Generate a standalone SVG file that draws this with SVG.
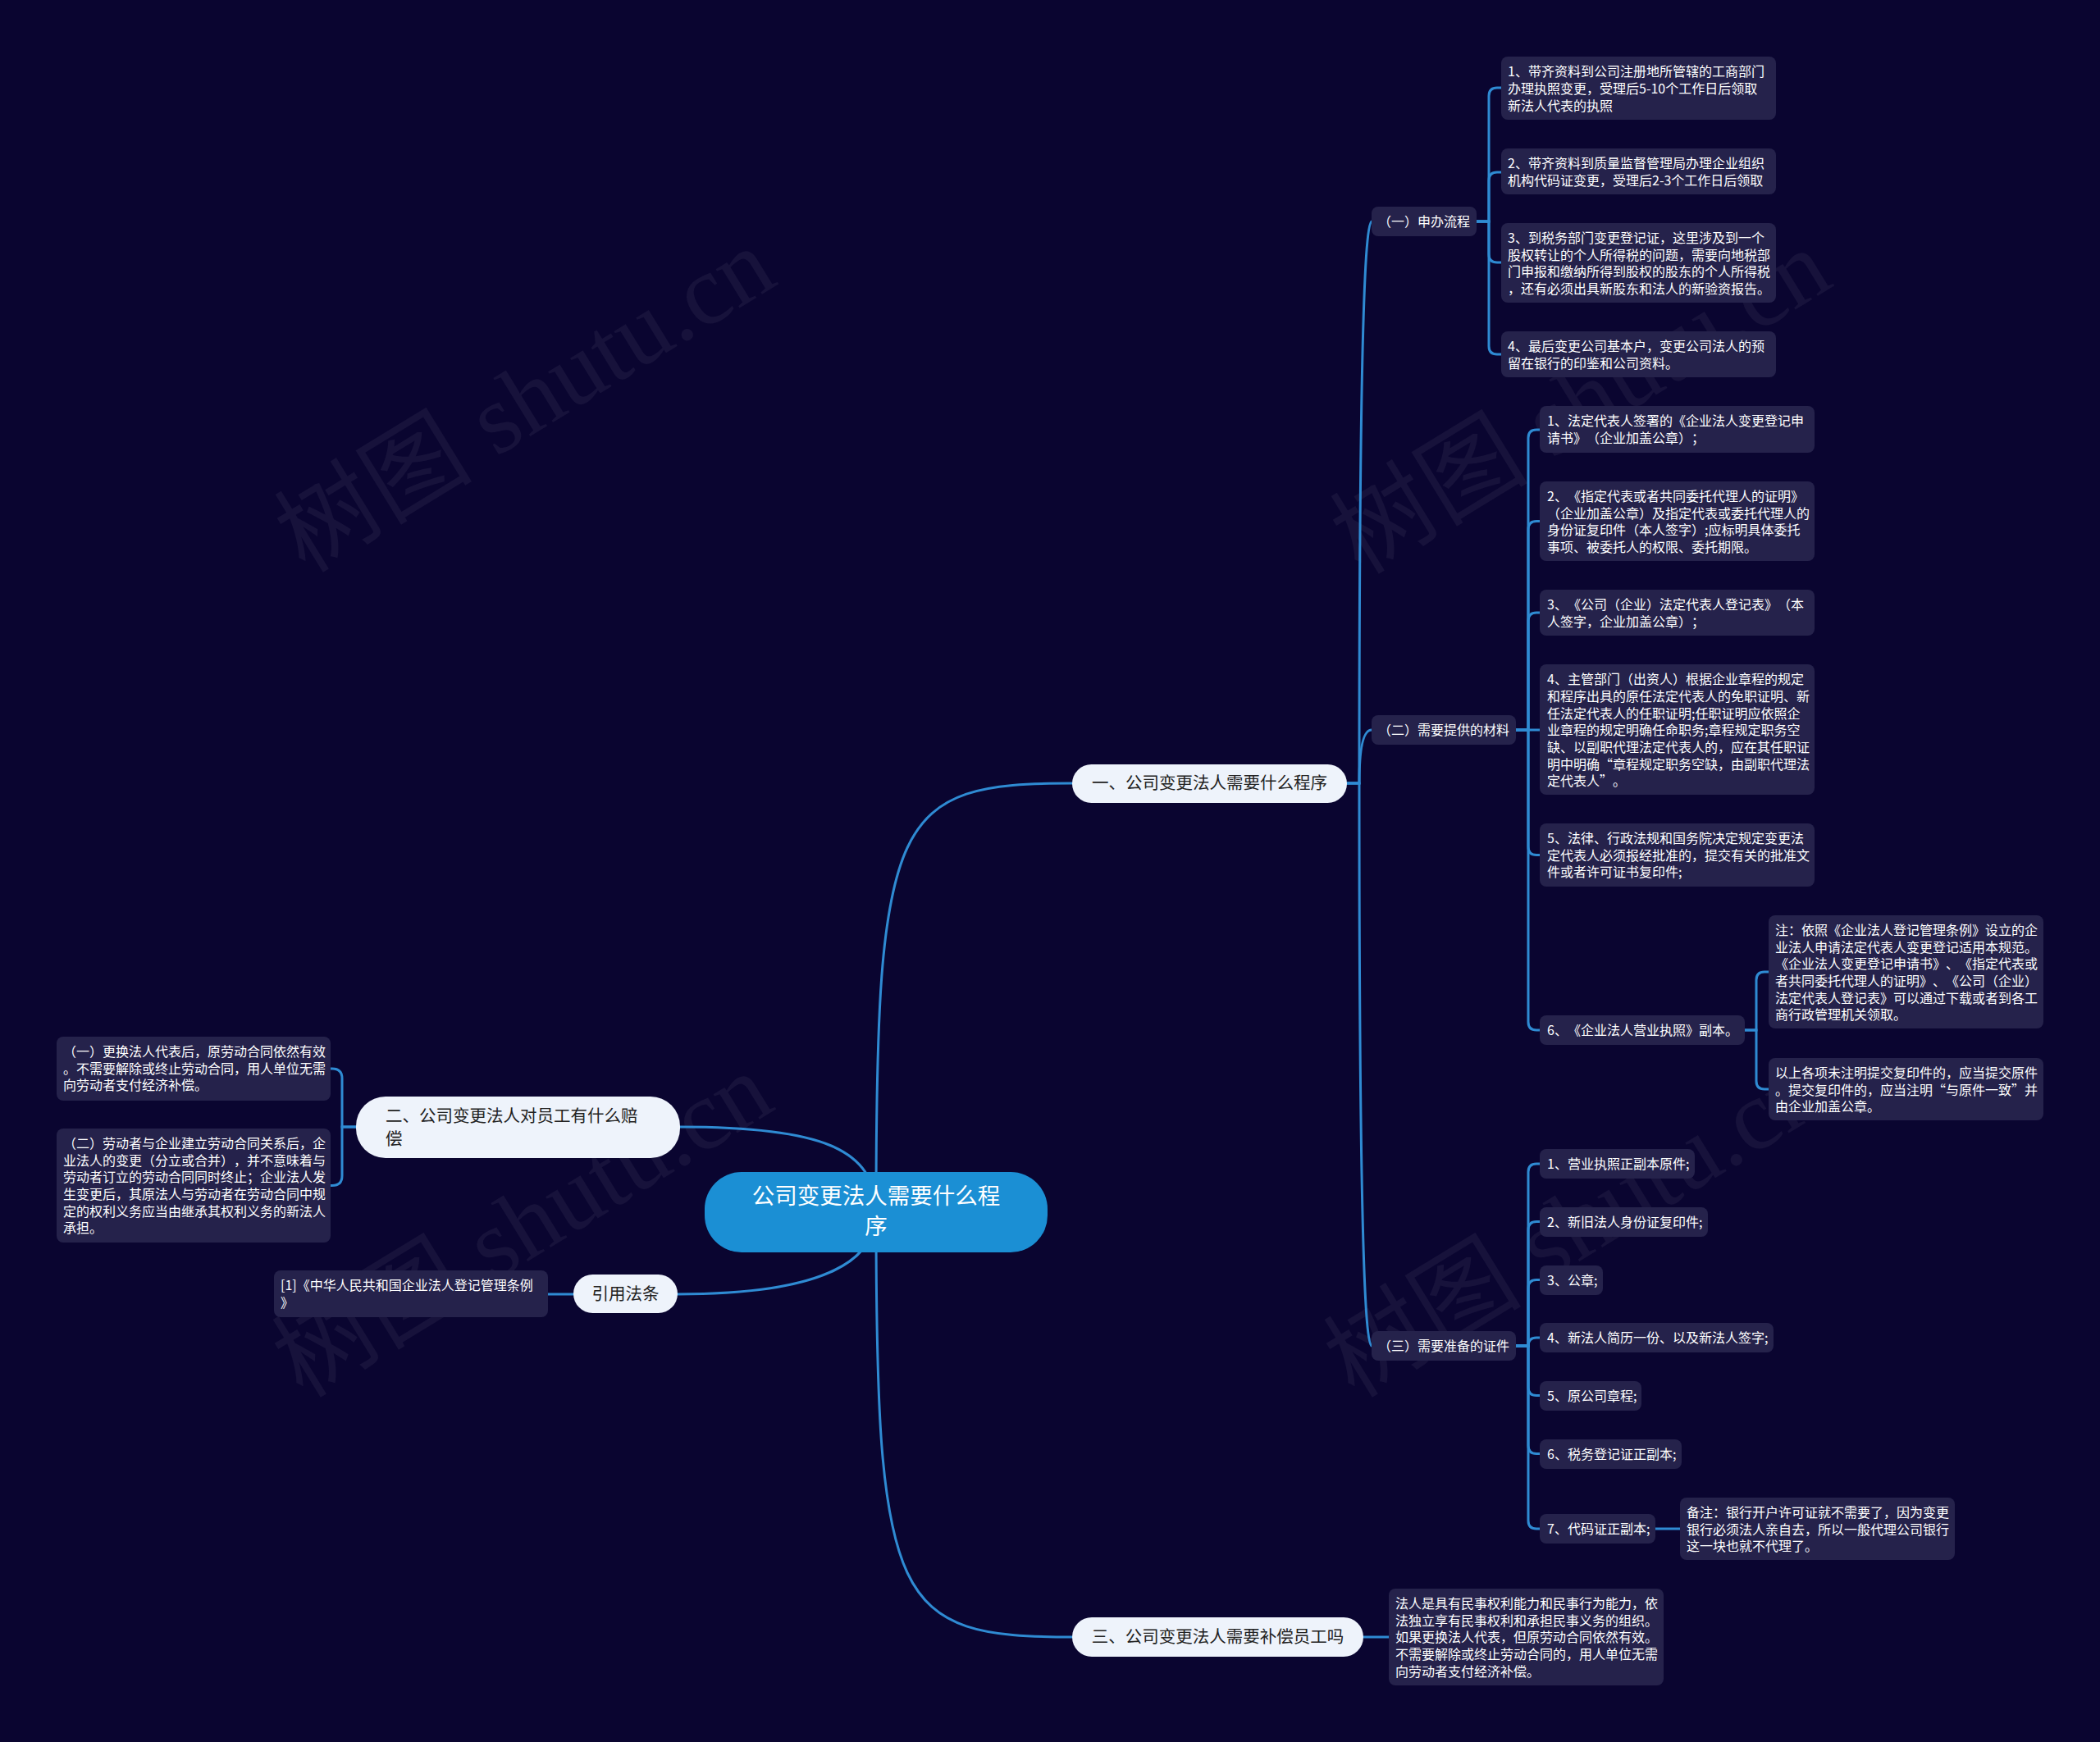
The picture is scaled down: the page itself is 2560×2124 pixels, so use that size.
<svg xmlns="http://www.w3.org/2000/svg" width="2560" height="2124" viewBox="0 0 2560 2124">
<style>
text{text-spacing-trim:space-all}
.wm{font-family:"Liberation Serif","Noto Sans CJK SC",serif;font-size:121px;fill:#ffffff;fill-opacity:0.055}
.lk{fill:none;stroke:#2f8bd3;stroke-width:3;stroke-linecap:round}
.sb{fill:#25224b}
.st{font-family:"Noto Sans CJK SC","Liberation Sans",sans-serif;font-size:16px;fill:#ffffff}
.mn{fill:#eef3fb}
.mt{font-family:"Noto Sans CJK SC","Liberation Sans",sans-serif;font-size:20.5px;fill:#222222}
.ct{font-family:"Noto Sans CJK SC","Liberation Sans",sans-serif;font-size:27.5px;fill:#ffffff}
</style>
<rect x="0" y="0" width="2560" height="2124" fill="#0a0530"/>
<g id="watermarks">
<text class="wm" x="372" y="700" transform="rotate(-31.5 372 700)">树图 shutu.cn</text>
<text class="wm" x="1659" y="702" transform="rotate(-31.5 1659 702)">树图 shutu.cn</text>
<text class="wm" x="369" y="1706" transform="rotate(-31.5 369 1706)">树图 shutu.cn</text>
<text class="wm" x="1651" y="1706" transform="rotate(-31.5 1651 1706)">树图 shutu.cn</text>
</g>
<g id="connectors">
<path class="lk" d="M1068,1478 C1068,990 1090,955 1307,955"/>
<path class="lk" d="M1068,1478 C1068,1960 1090,1996 1307,1996"/>
<path class="lk" d="M1068,1478 C1068,1400 1000,1374 829,1374"/>
<path class="lk" d="M1068,1478 C1068,1540 1000,1578 826,1578"/>
<path class="lk" d="M1642,955 H1657 Q1657,270 1672,270"/>
<path class="lk" d="M1642,955 H1657 Q1657,890 1672,890"/>
<path class="lk" d="M1642,955 H1657 Q1657,1641 1672,1641"/>
<path class="lk" d="M1800,270 H1815 V117 Q1815,107 1825,107 H1830"/>
<path class="lk" d="M1800,270 H1815 V220 Q1815,210 1825,210 H1830"/>
<path class="lk" d="M1800,270 H1815 V310 Q1815,320 1825,320 H1830"/>
<path class="lk" d="M1800,270 H1815 V422 Q1815,432 1825,432 H1830"/>
<path class="lk" d="M1848,890 H1863 V534 Q1863,524 1873,524 H1877"/>
<path class="lk" d="M1848,890 H1863 V645.5 Q1863,635.5 1873,635.5 H1877"/>
<path class="lk" d="M1848,890 H1863 V757 Q1863,747 1873,747 H1877"/>
<path class="lk" d="M1848,890 H1877"/>
<path class="lk" d="M1848,890 H1863 V1032.5 Q1863,1042.5 1873,1042.5 H1877"/>
<path class="lk" d="M1848,890 H1863 V1246 Q1863,1256 1873,1256 H1877"/>
<path class="lk" d="M1848,1641 H1863 V1429 Q1863,1419 1873,1419 H1877"/>
<path class="lk" d="M1848,1641 H1863 V1499.5 Q1863,1489.5 1873,1489.5 H1877"/>
<path class="lk" d="M1848,1641 H1863 V1570.5 Q1863,1560.5 1873,1560.5 H1877"/>
<path class="lk" d="M1848,1641 H1863 Q1863,1631 1873,1631 H1877"/>
<path class="lk" d="M1848,1641 H1863 V1691.5 Q1863,1701.5 1873,1701.5 H1877"/>
<path class="lk" d="M1848,1641 H1863 V1762.5 Q1863,1772.5 1873,1772.5 H1877"/>
<path class="lk" d="M1848,1641 H1863 V1854 Q1863,1864 1873,1864 H1877"/>
<path class="lk" d="M2127,1256 H2141 V1195 Q2141,1185 2151,1185 H2156"/>
<path class="lk" d="M2127,1256 H2141 V1318 Q2141,1328 2151,1328 H2156"/>
<path class="lk" d="M2018,1864 H2048"/>
<path class="lk" d="M1662,1996 H1693"/>
<path class="lk" d="M434,1374 H417 V1315 Q417,1303 405,1303 H403"/>
<path class="lk" d="M434,1374 H417 V1433.5 Q417,1445.5 405,1445.5 H403"/>
<path class="lk" d="M699,1578 H668"/>
</g>
<g id="center">
<rect x="859" y="1429" width="418" height="98" rx="45" fill="#1b8fd4"/>
<text class="ct" text-anchor="middle"><tspan x="1068" y="1468">公司变更法人需要什么程</tspan><tspan x="1068" y="1505">序</tspan></text>
</g>
<g id="branch1">
<rect class="mn" x="1307" y="932" width="335" height="47" rx="23.5"/>
<text class="mt" x="1474.5" y="962" text-anchor="middle">一、公司变更法人需要什么程序</text>
</g>
<g id="branch2">
<rect class="mn" x="434" y="1337" width="395" height="75" rx="36"/>
<text class="mt"><tspan x="470" y="1368">二、公司变更法人对员工有什么赔</tspan><tspan x="470" y="1396">偿</tspan></text>
</g>
<g id="branch3">
<rect class="mn" x="1307" y="1972" width="355" height="48" rx="24"/>
<text class="mt" x="1484.5" y="2003" text-anchor="middle">三、公司变更法人需要补偿员工吗</text>
</g>
<g id="branch4">
<rect class="mn" x="699" y="1554" width="127" height="47" rx="23.5"/>
<text class="mt" x="762.5" y="1585" text-anchor="middle">引用法条</text>
</g>
<g id="sub1">
<rect class="sb" x="1672" y="252" width="128" height="36" rx="8"/>
<text class="st" x="1680" y="276">（一）申办流程</text>
</g>
<g id="sub1-1">
<rect class="sb" x="1830" y="69" width="335" height="77" rx="8"/>
<text class="st"><tspan x="1838" y="93">1、带齐资料到公司注册地所管辖的工商部门</tspan><tspan x="1838" y="114">办理执照变更，受理后5-10个工作日后领取</tspan><tspan x="1838" y="135">新法人代表的执照</tspan></text>
</g>
<g id="sub1-2">
<rect class="sb" x="1830" y="181" width="335" height="56" rx="8"/>
<text class="st"><tspan x="1838" y="205">2、带齐资料到质量监督管理局办理企业组织</tspan><tspan x="1838" y="226">机构代码证变更，受理后2-3个工作日后领取</tspan></text>
</g>
<g id="sub1-3">
<rect class="sb" x="1830" y="272" width="335" height="97" rx="8"/>
<text class="st"><tspan x="1838" y="296">3、到税务部门变更登记证，这里涉及到一个</tspan><tspan x="1838" y="317">股权转让的个人所得税的问题，需要向地税部</tspan><tspan x="1838" y="337">门申报和缴纳所得到股权的股东的个人所得税</tspan><tspan x="1838" y="358">，还有必须出具新股东和法人的新验资报告。</tspan></text>
</g>
<g id="sub1-4">
<rect class="sb" x="1830" y="404" width="335" height="56" rx="8"/>
<text class="st"><tspan x="1838" y="428">4、最后变更公司基本户，变更公司法人的预</tspan><tspan x="1838" y="449">留在银行的印鉴和公司资料。</tspan></text>
</g>
<g id="sub2">
<rect class="sb" x="1672" y="872" width="176" height="36" rx="8"/>
<text class="st" x="1680" y="896">（二）需要提供的材料</text>
</g>
<g id="sub2-1">
<rect class="sb" x="1877" y="495" width="335" height="57" rx="8"/>
<text class="st"><tspan x="1886" y="519">1、法定代表人签署的《企业法人变更登记申</tspan><tspan x="1886" y="540">请书》（企业加盖公章）；</tspan></text>
</g>
<g id="sub2-2">
<rect class="sb" x="1877" y="587" width="335" height="97" rx="8"/>
<text class="st"><tspan x="1886" y="611">2、《指定代表或者共同委托代理人的证明》</tspan><tspan x="1886" y="632">（企业加盖公章）及指定代表或委托代理人的</tspan><tspan x="1886" y="652">身份证复印件（本人签字）;应标明具体委托</tspan><tspan x="1886" y="673">事项、被委托人的权限、委托期限。</tspan></text>
</g>
<g id="sub2-3">
<rect class="sb" x="1877" y="719" width="335" height="56" rx="8"/>
<text class="st"><tspan x="1886" y="743">3、《公司（企业）法定代表人登记表》（本</tspan><tspan x="1886" y="764">人签字，企业加盖公章）；</tspan></text>
</g>
<g id="sub2-4">
<rect class="sb" x="1877" y="810" width="335" height="159" rx="8"/>
<text class="st"><tspan x="1886" y="834">4、主管部门（出资人）根据企业章程的规定</tspan><tspan x="1886" y="855">和程序出具的原任法定代表人的免职证明、新</tspan><tspan x="1886" y="876">任法定代表人的任职证明;任职证明应依照企</tspan><tspan x="1886" y="896">业章程的规定明确任命职务;章程规定职务空</tspan><tspan x="1886" y="917">缺、以副职代理法定代表人的，应在其任职证</tspan><tspan x="1886" y="938">明中明确“章程规定职务空缺，由副职代理法</tspan><tspan x="1886" y="958">定代表人”。</tspan></text>
</g>
<g id="sub2-5">
<rect class="sb" x="1877" y="1004" width="335" height="77" rx="8"/>
<text class="st"><tspan x="1886" y="1028">5、法律、行政法规和国务院决定规定变更法</tspan><tspan x="1886" y="1049">定代表人必须报经批准的，提交有关的批准文</tspan><tspan x="1886" y="1069">件或者许可证书复印件;</tspan></text>
</g>
<g id="sub2-6">
<rect class="sb" x="1877" y="1238" width="250" height="36" rx="8"/>
<text class="st" x="1886" y="1262">6、《企业法人营业执照》副本。</text>
</g>
<g id="sub2-6-1">
<rect class="sb" x="2156" y="1116" width="335" height="138" rx="8"/>
<text class="st"><tspan x="2164" y="1140">注：依照《企业法人登记管理条例》设立的企</tspan><tspan x="2164" y="1161">业法人申请法定代表人变更登记适用本规范。</tspan><tspan x="2164" y="1181">《企业法人变更登记申请书》、《指定代表或</tspan><tspan x="2164" y="1202">者共同委托代理人的证明》、《公司（企业）</tspan><tspan x="2164" y="1223">法定代表人登记表》可以通过下载或者到各工</tspan><tspan x="2164" y="1243">商行政管理机关领取。</tspan></text>
</g>
<g id="sub2-6-2">
<rect class="sb" x="2156" y="1290" width="335" height="76" rx="8"/>
<text class="st"><tspan x="2164" y="1314">以上各项未注明提交复印件的，应当提交原件</tspan><tspan x="2164" y="1335">。提交复印件的，应当注明“与原件一致”并</tspan><tspan x="2164" y="1355">由企业加盖公章。</tspan></text>
</g>
<g id="sub3">
<rect class="sb" x="1672" y="1623" width="176" height="36" rx="8"/>
<text class="st" x="1680" y="1647">（三）需要准备的证件</text>
</g>
<g id="sub3-1">
<rect class="sb" x="1877" y="1401" width="189" height="36" rx="8"/>
<text class="st" x="1886" y="1425">1、营业执照正副本原件;</text>
</g>
<g id="sub3-2">
<rect class="sb" x="1877" y="1472" width="205" height="36" rx="8"/>
<text class="st" x="1886" y="1496">2、新旧法人身份证复印件;</text>
</g>
<g id="sub3-3">
<rect class="sb" x="1877" y="1543" width="77" height="36" rx="8"/>
<text class="st" x="1886" y="1567">3、公章;</text>
</g>
<g id="sub3-4">
<rect class="sb" x="1877" y="1613" width="285" height="36" rx="8"/>
<text class="st" x="1886" y="1637">4、新法人简历一份、以及新法人签字;</text>
</g>
<g id="sub3-5">
<rect class="sb" x="1877" y="1684" width="124" height="36" rx="8"/>
<text class="st" x="1886" y="1708">5、原公司章程;</text>
</g>
<g id="sub3-6">
<rect class="sb" x="1877" y="1755" width="173" height="36" rx="8"/>
<text class="st" x="1886" y="1779">6、税务登记证正副本;</text>
</g>
<g id="sub3-7">
<rect class="sb" x="1877" y="1846" width="141" height="36" rx="8"/>
<text class="st" x="1886" y="1870">7、代码证正副本;</text>
</g>
<g id="sub3-7-1">
<rect class="sb" x="2048" y="1826" width="335" height="76" rx="8"/>
<text class="st"><tspan x="2056" y="1850">备注：银行开户许可证就不需要了，因为变更</tspan><tspan x="2056" y="1871">银行必须法人亲自去，所以一般代理公司银行</tspan><tspan x="2056" y="1891">这一块也就不代理了。</tspan></text>
</g>
<g id="b2-1">
<rect class="sb" x="69" y="1264" width="334" height="78" rx="8"/>
<text class="st"><tspan x="77" y="1288">（一）更换法人代表后，原劳动合同依然有效</tspan><tspan x="77" y="1309">。不需要解除或终止劳动合同，用人单位无需</tspan><tspan x="77" y="1329">向劳动者支付经济补偿。</tspan></text>
</g>
<g id="b2-2">
<rect class="sb" x="69" y="1376" width="334" height="139" rx="8"/>
<text class="st"><tspan x="77" y="1400">（二）劳动者与企业建立劳动合同关系后，企</tspan><tspan x="77" y="1421">业法人的变更（分立或合并），并不意味着与</tspan><tspan x="77" y="1441">劳动者订立的劳动合同同时终止；企业法人发</tspan><tspan x="77" y="1462">生变更后，其原法人与劳动者在劳动合同中规</tspan><tspan x="77" y="1483">定的权利义务应当由继承其权利义务的新法人</tspan><tspan x="77" y="1503">承担。</tspan></text>
</g>
<g id="b3-1">
<rect class="sb" x="1693" y="1937" width="335" height="118" rx="8"/>
<text class="st"><tspan x="1701" y="1961">法人是具有民事权利能力和民事行为能力，依</tspan><tspan x="1701" y="1982">法独立享有民事权利和承担民事义务的组织。</tspan><tspan x="1701" y="2002">如果更换法人代表，但原劳动合同依然有效。</tspan><tspan x="1701" y="2023">不需要解除或终止劳动合同的，用人单位无需</tspan><tspan x="1701" y="2044">向劳动者支付经济补偿。</tspan></text>
</g>
<g id="b4-1">
<rect class="sb" x="334" y="1549" width="334" height="57" rx="8"/>
<text class="st"><tspan x="342" y="1573">[1]《中华人民共和国企业法人登记管理条例</tspan><tspan x="342" y="1594">》</tspan></text>
</g>
</svg>
